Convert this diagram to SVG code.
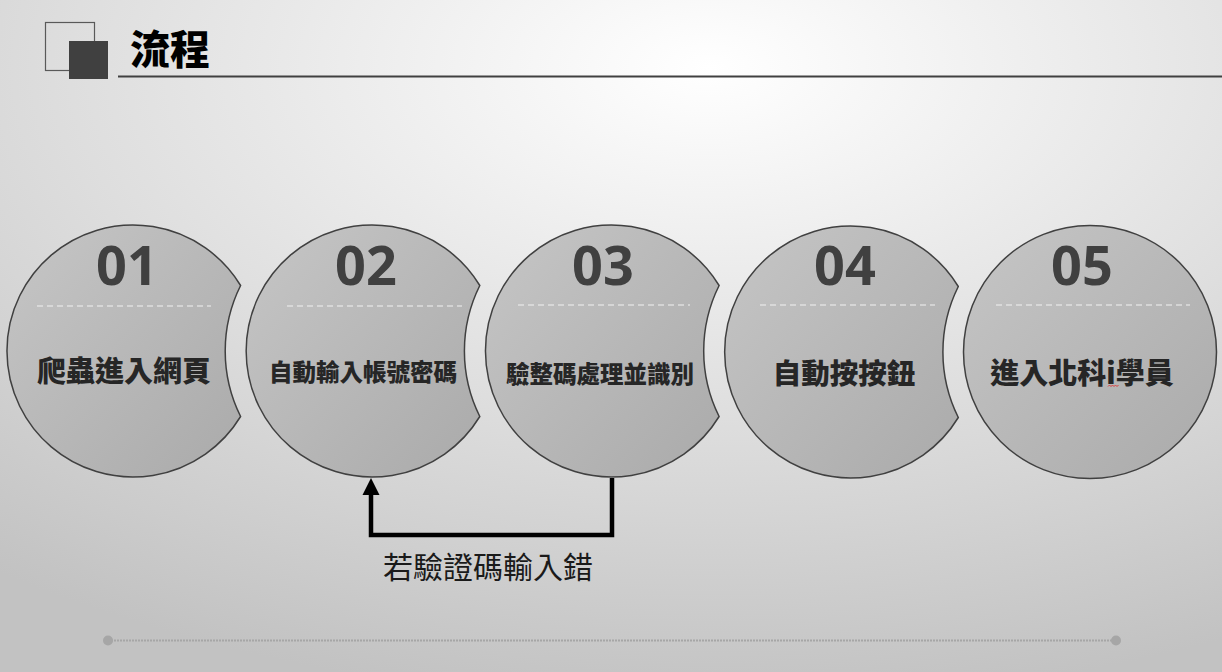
<svg xmlns="http://www.w3.org/2000/svg" width="1222" height="672" viewBox="0 0 1222 672">
<defs>
<radialGradient id="bg" cx="0.58" cy="0.1" r="0.95" fx="0.58" fy="0.1">
<stop offset="0" stop-color="#ffffff"/>
<stop offset="0.55" stop-color="#dedede"/>
<stop offset="1" stop-color="#c2c2c2"/>
</radialGradient>
<linearGradient id="cf" x1="0" y1="0" x2="1" y2="1">
<stop offset="0" stop-color="#c6c6c6"/>
<stop offset="1" stop-color="#aaaaaa"/>
</linearGradient>
</defs>
<style>
.shape{fill:url(#cf);stroke:#404040;stroke-width:1.5}
.num{font-family:"Open Sans","Liberation Sans",sans-serif;font-weight:700;font-size:54px;fill:#404040;text-anchor:middle}
.dash{stroke:#f2f2f2;stroke-width:1.2;stroke-dasharray:6 4}
.lbl{font-family:"Noto Sans CJK TC","Noto Sans CJK SC",sans-serif;font-weight:900;fill:#262626;text-anchor:middle}
.conn{fill:none;stroke:#000;stroke-width:4.5}
</style>
<rect width="1222" height="672" fill="url(#bg)"/>
<g id="header">
<rect x="45.5" y="22.5" width="49" height="48" fill="none" stroke="#595959" stroke-width="1.2"/>
<rect x="69" y="41" width="39" height="38" fill="#404040"/>
<text x="130" y="64" font-family="Noto Sans CJK TC,Noto Sans CJK SC,sans-serif" font-weight="900" font-size="40" fill="#000">流程</text>
<line x1="118" y1="76.5" x2="1222" y2="76.5" stroke="#404040" stroke-width="2"/>
</g>
<g id="step1">
<path class="shape" d="M240.6,285.5 A126,126 0 1 0 240.6,416.5 A147,147 0 0 1 240.6,285.5 Z"/>
<text class="num" x="127" y="285">01</text>
<line class="dash" x1="37" y1="306" x2="211" y2="306"/>
<text class="lbl" x="124" y="382" font-size="29">爬蟲進入網頁</text>
</g>
<g id="step2">
<path class="shape" d="M479.8,285.5 A126,126 0 1 0 479.8,416.5 A147,147 0 0 1 479.8,285.5 Z"/>
<text class="num" x="366" y="285">02</text>
<line class="dash" x1="287" y1="306" x2="462" y2="306"/>
<text class="lbl" x="363" y="381" font-size="23.5">自動輸入帳號密碼</text>
</g>
<g id="step3">
<path class="shape" d="M719.1,285.5 A126,126 0 1 0 719.1,416.5 A147,147 0 0 1 719.1,285.5 Z"/>
<text class="num" x="603" y="285">03</text>
<line class="dash" x1="518" y1="305" x2="690" y2="305"/>
<text class="lbl" x="600" y="383" font-size="23.5">驗整碼處理並識別</text>
</g>
<g id="step4">
<path class="shape" d="M958.3,286.5 A126,126 0 1 0 958.3,417.5 A147,147 0 0 1 958.3,286.5 Z"/>
<text class="num" x="845" y="285">04</text>
<line class="dash" x1="760" y1="305" x2="935" y2="305"/>
<text class="lbl" x="844" y="384" font-size="28.5">自動按按鈕</text>
</g>
<g id="step5">
<circle class="shape" cx="1090" cy="352" r="126.5"/>
<text class="num" x="1082" y="285">05</text>
<line class="dash" x1="996" y1="305" x2="1190" y2="305"/>
<text class="lbl" x="1082" y="384" font-size="29">進入北科i學員</text>
<path d="M1108,386.5 l1.5,-1.5 l1.5,1.5 l1.5,-1.5 l1.5,1.5 l1.5,-1.5 l1.5,1.5 l1.5,-1.5" fill="none" stroke="#e03030" stroke-width="0.9"/>
</g>
<g id="connectors">
<path class="conn" d="M612,478 V535 H371 V494"/>
<polygon points="371,478 379.5,495 362.5,495" fill="#000"/>
<text x="488" y="578" font-family="Noto Sans CJK TC,Noto Sans CJK SC,sans-serif" font-size="30" fill="#1a1a1a" text-anchor="middle">若驗證碼輸入錯</text>
</g>
<g id="footer">
<line x1="108" y1="640.5" x2="1116" y2="640.5" stroke="#a6a6a6" stroke-width="2" stroke-dasharray="2 1"/>
<circle cx="108" cy="640.5" r="5" fill="#a6a6a6"/>
<circle cx="1116" cy="640.5" r="5" fill="#a6a6a6"/>
</g>
</svg>
